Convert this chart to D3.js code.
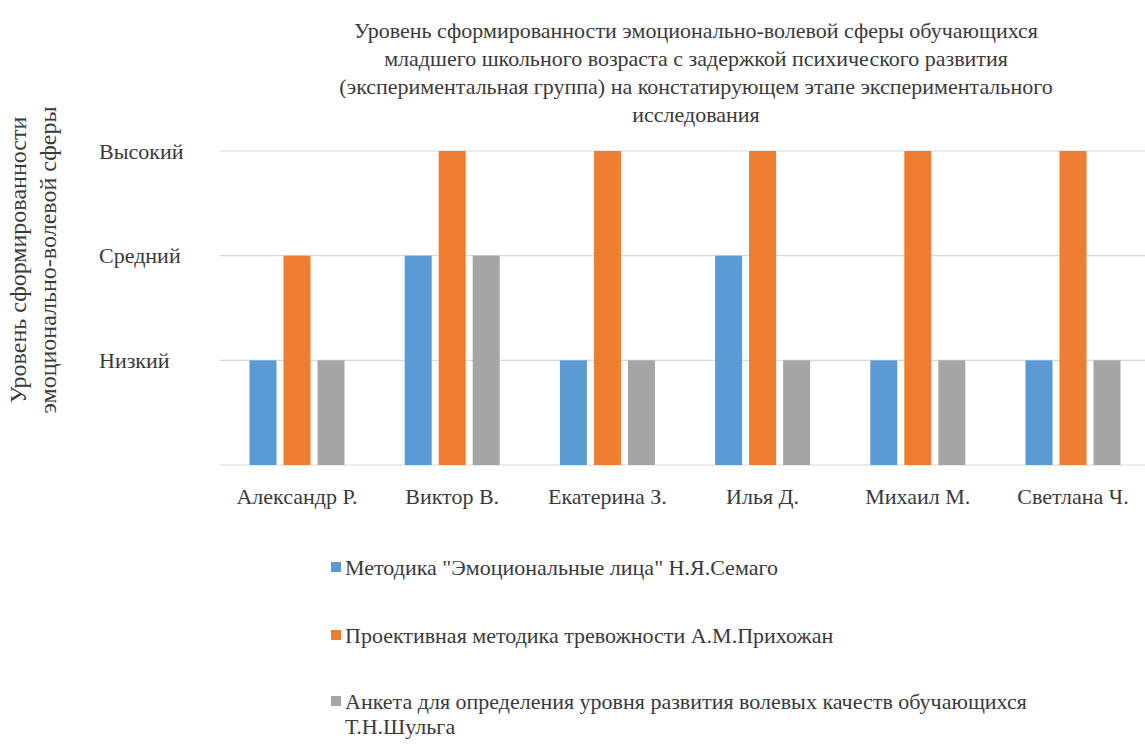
<!DOCTYPE html>
<html lang="ru">
<head>
<meta charset="utf-8">
<script src="https://cdn.jsdelivr.net/npm/d3@7"></script>
<style>
  html, body { margin: 0; padding: 0; background: #ffffff; }
  svg text { font-family: "Liberation Serif", "Tinos", "DejaVu Serif", serif; fill: #3a3a3a; }
</style>
</head>
<body>
<svg id="chart" width="1145" height="749"></svg>
<script>
// Pupils (categories)
const pupils = ["Александр Р.", "Виктор В.", "Екатерина З.", "Илья Д.", "Михаил М.", "Светлана Ч."];

// Level values: 1 = Низкий, 2 = Средний, 3 = Высокий
const semagoValues     = [1, 2, 1, 2, 1, 1];
const prikhozhanValues = [2, 3, 3, 3, 3, 3];
const shulgaValues     = [1, 2, 1, 1, 1, 1];

const seriesNames = [
  "Методика \"Эмоциональные лица\" Н.Я.Семаго",
  "Проективная методика тревожности А.М.Прихожан",
  "Анкета для определения уровня развития волевых качеств обучающихся Т.Н.Шульга"
];
const seriesColors = ["#5b9bd5", "#ed7d31", "#a5a5a5"];

const levelTicks = [0, 1, 2, 3];
const levelLabels = ["", "Низкий", "Средний", "Высокий"];

const titleLines = [
  "Уровень сформированности эмоционально-волевой сферы обучающихся",
  "младшего школьного возраста с задержкой психического развития",
  "(экспериментальная группа) на констатирующем этапе экспериментального",
  "исследования"
];
const yTitleLines = ["Уровень сформированности", "эмоционально-волевой сферы"];
const legendLines = [
  ["Методика \"Эмоциональные лица\" Н.Я.Семаго"],
  ["Проективная методика тревожности А.М.Прихожан"],
  ["Анкета для определения уровня развития волевых качеств обучающихся", "Т.Н.Шульга"]
];

const seriesData = [semagoValues, prikhozhanValues, shulgaValues];

const FONT = "\"Liberation Serif\", \"Tinos\", \"DejaVu Serif\", serif";
const svg = d3.select("#chart").style("font-family", FONT);

const plot = { left: 219.4, right: 1150.6, top: 151, bottom: 465 };

const x0 = d3.scaleBand().domain(pupils).range([plot.left, plot.right]).padding(0);
const x1 = d3.scaleBand().domain(d3.range(seriesNames.length))
  .range([0, x0.bandwidth()]).paddingInner(0.206).paddingOuter(0.885);
const y = d3.scaleLinear().domain([0, 3]).range([plot.bottom, plot.top]);

// Horizontal gridlines
svg.append("g")
  .selectAll("line")
  .data(levelTicks)
  .join("line")
  .attr("x1", plot.left)
  .attr("x2", plot.right)
  .attr("y1", d => y(d))
  .attr("y2", d => y(d))
  .attr("stroke", "#d9d9d9")
  .attr("stroke-width", 1.2);

// Level axis (labels only, left-aligned)
const yAxis = d3.axisLeft(y)
  .tickValues(levelTicks)
  .tickFormat((d, i) => levelLabels[i])
  .tickSize(0);
const yAxisG = svg.append("g").attr("transform", "translate(99,0)").call(yAxis)
  .attr("font-family", null).attr("font-size", null);
yAxisG.select(".domain").remove();
yAxisG.selectAll("text")
  .attr("x", 0)
  .attr("dy", "0.32em")
  .attr("text-anchor", "start")
  .style("font-size", "22px")
  .attr("fill", "#3a3a3a");

// Bars
const groups = svg.append("g")
  .selectAll("g")
  .data(pupils)
  .join("g")
  .attr("transform", d => `translate(${x0(d)},0)`);

groups.selectAll("rect")
  .data((d, i) => seriesData.map((vals, s) => ({ s, v: vals[i] })))
  .join("rect")
  .attr("x", d => x1(d.s))
  .attr("width", x1.bandwidth())
  .attr("y", d => y(d.v))
  .attr("height", d => y(0) - y(d.v))
  .attr("fill", d => seriesColors[d.s]);

// Category axis
const xAxis = d3.axisBottom(x0).tickSize(0);
const xAxisG = svg.append("g").attr("transform", `translate(0,${plot.bottom})`).call(xAxis)
  .attr("font-family", null).attr("font-size", null);
xAxisG.select(".domain").remove();
xAxisG.selectAll("text")
  .attr("y", 32)
  .attr("dy", "0.32em")
  .style("font-size", "22px")
  .attr("fill", "#3a3a3a");

// Title
svg.append("text")
  .attr("text-anchor", "middle")
  .style("font-size", "22px")
  .selectAll("tspan")
  .data(titleLines)
  .join("tspan")
  .attr("x", 696)
  .attr("y", (d, i) => 30 + i * 28)
  .attr("dy", "0.35em")
  .text(d => d);

// Vertical axis title
svg.append("text")
  .attr("transform", "translate(0,260) rotate(-90)")
  .attr("text-anchor", "middle")
  .style("font-size", "24px")
  .selectAll("tspan")
  .data(yTitleLines)
  .join("tspan")
  .attr("x", 0)
  .attr("y", (d, i) => 18 + i * 30)
  .attr("dy", "0.35em")
  .text(d => d);

// Legend
const legendY = [567, 635, 701];
const legend = svg.append("g")
  .selectAll("g")
  .data(seriesNames)
  .join("g")
  .attr("transform", (d, i) => `translate(331,${legendY[i]})`);

legend.append("rect")
  .attr("x", 0)
  .attr("y", -5)
  .attr("width", 10)
  .attr("height", 10)
  .attr("fill", (d, i) => seriesColors[i]);

legend.append("text")
  .style("font-size", "22px")
  .selectAll("tspan")
  .data((d, i) => legendLines[i])
  .join("tspan")
  .attr("x", 14)
  .attr("y", (d, j) => j * 25)
  .attr("dy", "0.35em")
  .text(d => d);
</script>
</body>
</html>
